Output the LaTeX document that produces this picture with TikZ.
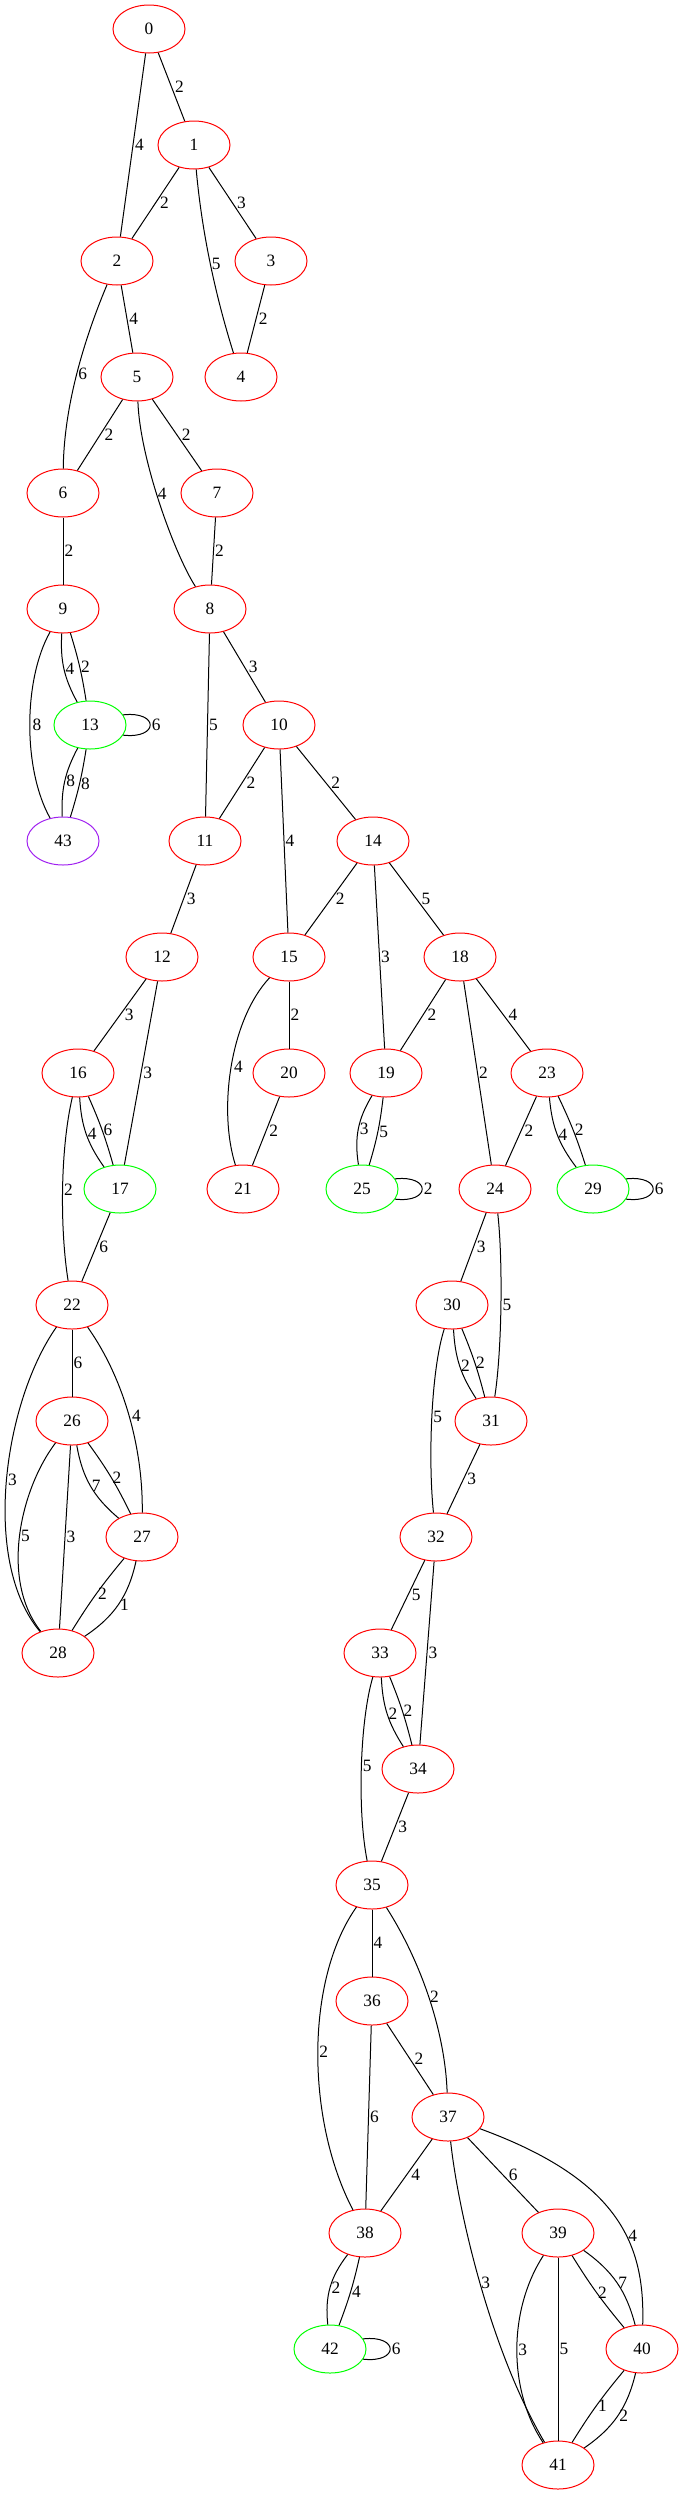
\documentclass[tikz,border=0pt]{standalone}
\usepackage{fontspec}
\setmainfont{Liberation Serif}
\usetikzlibrary{shapes.geometric}
\definecolor{gvpurple}{RGB}{160,32,240}
\tikzstyle{vertex}=[ellipse, draw=red, line width=0.75pt, minimum width=54pt, minimum height=36pt, inner sep=0pt]
\tikzstyle{loopvertex}=[vertex, draw=green]
\tikzstyle{endvertex}=[vertex, draw=gvpurple]
\tikzset{weight/.style={anchor=west, inner sep=0.8pt, xshift=#1}, weight/.default=0pt}

\begin{document}
\begin{tikzpicture}[x=0.75pt, y=-0.75pt, line width=0.75pt, font=\fontsize{13}{15}\selectfont]
    \useasboundingbox (0,0) rectangle (681,2495);
    \node (n0) [vertex] at (149,29) {0};
    \node (n1) [vertex] at (194,145) {1};
    \node (n2) [vertex] at (117,261) {2};
    \node (n3) [vertex] at (271,261) {3};
    \node (n4) [vertex] at (241,377) {4};
    \node (n5) [vertex] at (137,377) {5};
    \node (n6) [vertex] at (63,493) {6};
    \node (n7) [vertex] at (217,493) {7};
    \node (n8) [vertex] at (210,609) {8};
    \node (n9) [vertex] at (63,609) {9};
    \node (n13) [loopvertex] at (90,725) {13};
    \node (n10) [vertex] at (279,725) {10};
    \node (n43) [endvertex] at (63,841) {43};
    \node (n11) [vertex] at (205,841) {11};
    \node (n14) [vertex] at (373,841) {14};
    \node (n12) [vertex] at (162,957) {12};
    \node (n15) [vertex] at (289,957) {15};
    \node (n18) [vertex] at (460,957) {18};
    \node (n16) [vertex] at (78,1073) {16};
    \node (n20) [vertex] at (289,1073) {20};
    \node (n19) [vertex] at (386,1073) {19};
    \node (n23) [vertex] at (547,1073) {23};
    \node (n17) [loopvertex] at (120,1189) {17};
    \node (n21) [vertex] at (243,1189) {21};
    \node (n25) [loopvertex] at (362,1189) {25};
    \node (n24) [vertex] at (495,1189) {24};
    \node (n29) [loopvertex] at (593,1189) {29};
    \node (n22) [vertex] at (72,1305) {22};
    \node (n30) [vertex] at (452,1305) {30};
    \node (n26) [vertex] at (72,1421) {26};
    \node (n31) [vertex] at (491,1421) {31};
    \node (n27) [vertex] at (142,1537) {27};
    \node (n32) [vertex] at (436,1537) {32};
    \node (n28) [vertex] at (58,1653) {28};
    \node (n33) [vertex] at (380,1653) {33};
    \node (n34) [vertex] at (418,1769) {34};
    \node (n35) [vertex] at (372,1885) {35};
    \node (n36) [vertex] at (372,2001) {36};
    \node (n37) [vertex] at (448,2117) {37};
    \node (n38) [vertex] at (365,2233) {38};
    \node (n39) [vertex] at (558,2233) {39};
    \node (n42) [loopvertex] at (330,2349) {42};
    \node (n40) [vertex] at (642,2349) {40};
    \node (n41) [vertex] at (558,2465) {41};

    \path (n0) edge node[weight=1.5pt] {2} (n1);
    \path (n0) edge node[weight=0.5pt] {4} (n2);
    \path (n1) edge node[weight=2.3pt] {2} (n2);
    \path (n1) edge node[weight=2.3pt] {3} (n3);
    \draw (n1) .. controls (203,245) and (220,310) .. node[weight, pos=0.45] {5} (n4);
    \draw (n2) .. controls (88,330) and (64,400) .. node[weight, pos=0.53] {6} (n6);
    \path (n2) edge node[weight=0.6pt] {4} (n5);
    \path (n3) edge node[weight=0.9pt] {2} (n4);
    \path (n5) edge node[weight=2.2pt] {2} (n6);
    \draw (n5) .. controls (140,460) and (175,555) .. node[weight, pos=0.45] {4} (n8);
    \path (n5) edge node[weight=2.4pt] {2} (n7);
    \path (n6) edge node[weight] {2} (n9);
    \path (n7) edge node[weight] {2} (n8);
    \path (n9) edge[bend right=16] node[weight] {4} (n13);
    \path (n9) edge[bend left=4] node[weight] {2} (n13);
    \draw (n9) .. controls (23,680) and (23,770) .. node[weight, xshift=1pt] {8} (n43);
    \draw (n13.17) .. controls +(27pt,3pt) and +(27pt,-3pt) .. node[weight] {6} (n13.-17);
    \path (n13) edge[bend right=15] node[weight] {8} (n43);
    \path (n13) edge[bend left=4] node[weight] {8} (n43);
    \path (n8) edge node[weight] {5} (n11);
    \path (n8) edge node[weight=2.1pt] {3} (n10);
    \path (n10) edge node[weight=2.2pt] {2} (n11);
    \path (n10) edge node[weight] {4} (n15);
    \path (n10) edge node[weight=2.8pt] {2} (n14);
    \path (n11) edge node[weight=1.3pt] {3} (n12);
    \path (n14) edge node[weight=2.5pt] {2} (n15);
    \path (n14) edge node[weight] {3} (n19);
    \path (n14) edge node[weight=2.6pt] {5} (n18);
    \path (n12) edge node[weight=2.5pt] {3} (n16);
    \path (n12) edge node[weight=0.6pt] {3} (n17);
    \draw (n15) .. controls (230,1020) and (218,1110) .. node[weight, xshift=1pt] {4} (n21);
    \path (n15) edge node[weight] {2} (n20);
    \path (n18) edge node[weight=2.2pt] {2} (n19);
    \path (n18) edge node[weight] {2} (n24);
    \path (n18) edge node[weight=2.6pt] {4} (n23);
    \draw (n16) .. controls (60,1150) and (60,1230) .. node[weight] {2} (n22);
    \path (n16) edge[bend right=16] node[weight] {4} (n17);
    \path (n16) edge[bend left=4] node[weight] {6} (n17);
    \path (n20) edge node[weight=1.4pt] {2} (n21);
    \path (n19) edge[bend right=20] node[weight] {3} (n25);
    \path (n19) edge[bend left=5] node[weight] {5} (n25);
    \draw (n25.17) .. controls +(27pt,3pt) and +(27pt,-3pt) .. node[weight] {2} (n25.-17);
    \path (n23) edge node[weight=1.6pt] {2} (n24);
    \path (n23) edge[bend right=16] node[weight] {4} (n29);
    \path (n23) edge[bend left=4] node[weight] {2} (n29);
    \draw (n29.17) .. controls +(27pt,3pt) and +(27pt,-3pt) .. node[weight] {6} (n29.-17);
    \path (n17) edge node[weight=1.4pt] {6} (n22);
    \path (n24) edge node[weight=1.3pt] {3} (n30);
    \draw (n24) .. controls (503,1260) and (502,1350) .. node[weight] {5} (n31);
    \path (n22) edge node[weight] {6} (n26);
    \draw (n22) .. controls (5,1400) and (-20,1560) .. node[weight] {3} (n28);
    \draw (n22) .. controls (125,1380) and (143,1450) .. node[weight, xshift=1pt] {4} (n27);
    \path (n30) edge[bend right=15] node[weight] {2} (n31);
    \path (n30) edge[bend left=4] node[weight] {2} (n31);
    \draw (n30) .. controls (431,1370) and (428,1460) .. node[weight] {5} (n32);
    \draw (n26) .. controls (20,1490) and (0,1580) .. node[weight] {5} (n28);
    \path (n26) edge node[weight] {3} (n28);
    \path (n26) edge[bend right=20] node[weight] {7} (n27);
    \path (n26) edge[bend left=5] node[weight] {2} (n27);
    \path (n27) edge[bend right=4] node[weight] {2} (n28);
    \path (n27) edge[bend left=22] node[weight] {1} (n28);
    \path (n31) edge node[weight=1.7pt] {3} (n32);
    \path (n32) edge node[weight=1.7pt] {5} (n33);
    \path (n32) edge node[weight] {3} (n34);
    \path (n33) edge[bend right=15] node[weight] {2} (n34);
    \path (n33) edge[bend left=4] node[weight] {2} (n34);
    \draw (n33) .. controls (360,1720) and (357,1810) .. node[weight] {5} (n35);
    \path (n34) edge node[weight=1.4pt] {3} (n35);
    \path (n35) edge node[weight] {4} (n36);
    \draw (n35) .. controls (305,1980) and (306,2120) .. node[weight] {2} (n38);
    \draw (n35) .. controls (420,1960) and (445,2030) .. node[weight] {2} (n37);
    \path (n36) edge node[weight] {6} (n38);
    \path (n36) edge node[weight=2.3pt] {2} (n37);
    \path (n37) edge node[weight=2.5pt] {4} (n38);
    \draw (n37) .. controls (458,2210) and (490,2350) .. node[weight] {3} (n41);
    \path (n37) edge node[weight=3.3pt] {6} (n39);
    \draw (n37) .. controls (620,2180) and (645,2245) .. node[weight, pos=0.6] {4} (n40);
    \path (n38) edge[bend right=22] node[weight] {2} (n42);
    \path (n38) edge[bend left=4] node[weight] {4} (n42);
    \draw (n42.17) .. controls +(27pt,3pt) and +(27pt,-3pt) .. node[weight] {6} (n42.-17);
    \draw (n39) .. controls (508,2310) and (508,2390) .. node[weight] {3} (n41);
    \path (n39) edge node[weight] {5} (n41);
    \path (n39) edge[bend right=4] node[weight] {2} (n40);
    \path (n39) edge[bend left=20] node[weight] {7} (n40);
    \path (n40) edge[bend right=4] node[weight] {1} (n41);
    \path (n40) edge[bend left=21] node[weight] {2} (n41);
\end{tikzpicture}
\end{document}
